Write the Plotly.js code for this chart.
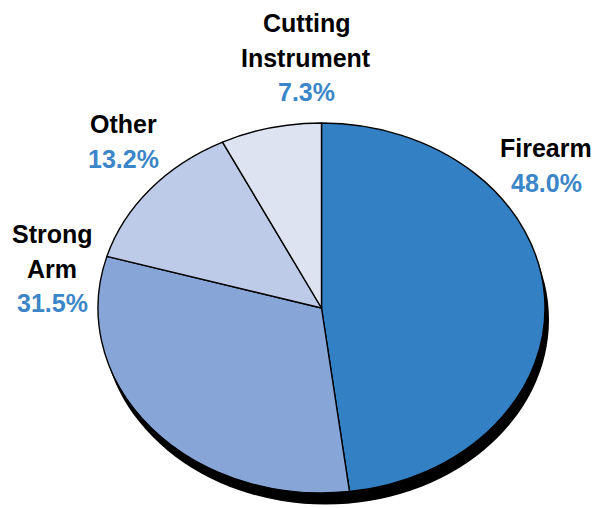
<!DOCTYPE html>
<html>
<head>
<meta charset="utf-8">
<script src="https://cdn.plot.ly/plotly-3.0.1.min.js"></script>
<style>html,body{margin:0;padding:0;background:#fff;}#chart{width:594px;height:508px;}</style>
</head>
<body>
<div id="chart"></div>
<script>
// ---- data ----
const categories = ['Firearm', 'Strong Arm', 'Other', 'Cutting Instrument'];
const values = [48.0, 31.5, 13.2, 7.3];
const labelLines = [['Firearm'], ['Strong', 'Arm'], ['Other'], ['Cutting', 'Instrument']];
const sliceColors = ['#3381C4', '#87A6D7', '#BDCBE8', '#DEE3F2'];

// ---- layout helpers ----
const W = 594, H = 508;
const px = x => x / W;
const py = y => 1 - y / H;
// label anchor (center x, first-line baseline y) for each category
const labelPos = [[546, 157], [52, 243], [123, 133], [306, 32]];
const pitch = 34.5, fs = 25;

const annotations = [];
categories.forEach((c, i) => {
  const [lx, ly] = labelPos[i];
  const lines = labelLines[i].concat([values[i].toFixed(1) + '%']);
  lines.forEach((t, k) => {
    const isPct = k === lines.length - 1;
    annotations.push({
      xref: 'paper', yref: 'paper',
      x: px(lx), y: py(ly + k * pitch - fs * 0.36),
      xanchor: 'center', yanchor: 'middle',
      text: '<b>' + t + '</b>', showarrow: false,
      font: {family: 'Liberation Sans, Arial, sans-serif', size: fs, color: isPct ? '#3A86C8' : '#000000'}
    });
  });
});

const shadow = {
  type: 'pie', values: [1], labels: ['shadow'], sort: false,
  marker: {colors: ['#000000'], line: {width: 0}},
  textinfo: 'none', hoverinfo: 'skip', showlegend: false,
  domain: {x: [px(102), px(549)], y: [py(491), py(44)]}
};
const pie = {
  type: 'pie', values: values, labels: categories, sort: false,
  direction: 'clockwise', rotation: 0,
  marker: {colors: sliceColors, line: {color: '#000000', width: 1.4}},
  textinfo: 'none', hoverinfo: 'label+percent', showlegend: false,
  domain: {x: [px(98), px(545)], y: [py(477), py(30)]}
};

const layout = {
  width: W, height: H, margin: {l: 0, r: 0, t: 0, b: 0},
  paper_bgcolor: '#ffffff', showlegend: false,
  annotations: annotations
};

Plotly.newPlot('chart', [shadow, pie], layout, {displayModeBar: false, staticPlot: true}).then(() => {
  // squash the circular pie into the ellipse of the original
  const s = 185 / 223.5;
  const t = 308 - s * 253.5;
  const g = document.querySelector('.pielayer');
  if (g) g.setAttribute('transform', 'translate(0,' + t + ') scale(1,' + s + ')');
  document.querySelectorAll('.pielayer path').forEach(p => p.setAttribute('vector-effect', 'non-scaling-stroke'));
});
</script>
</body>
</html>
